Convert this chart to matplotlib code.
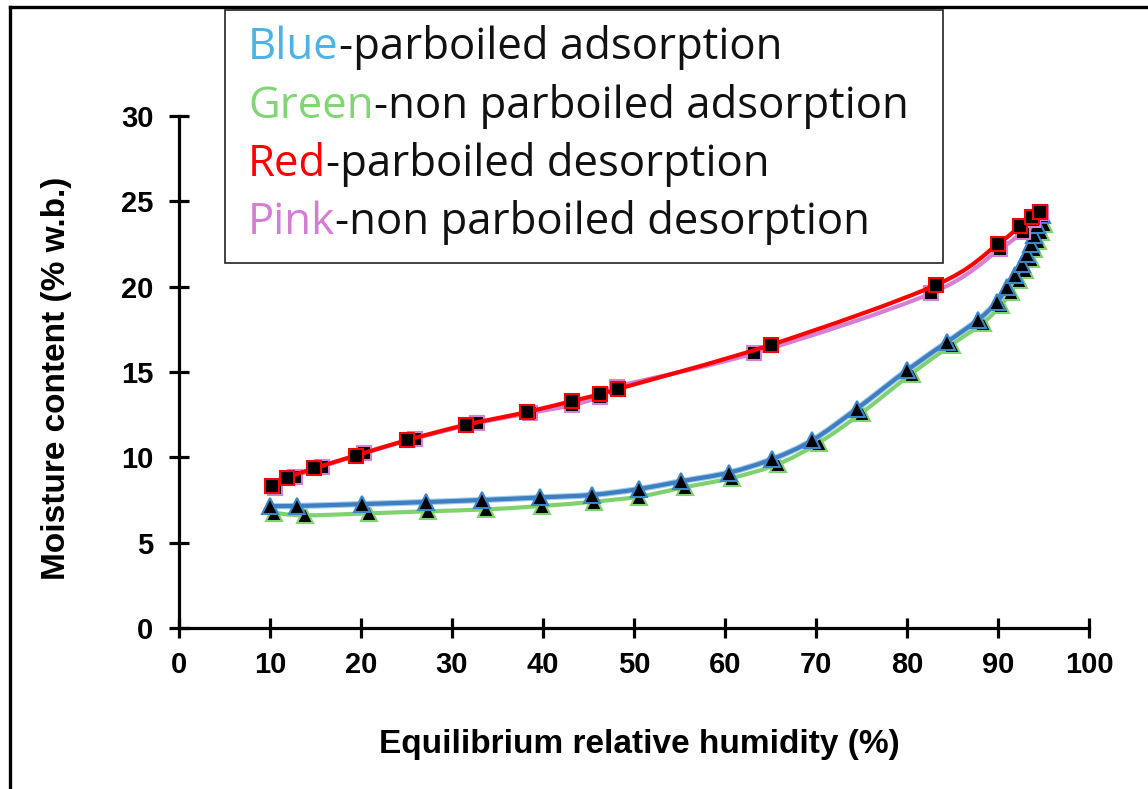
import numpy as np
import matplotlib
matplotlib.use("Agg")
import matplotlib.pyplot as plt
from matplotlib.path import Path
from matplotlib.patches import PathPatch, Rectangle
from matplotlib.lines import Line2D
from matplotlib.text import Annotation

# Sorption isotherm readings: equilibrium relative humidity (%) vs moisture content (% w.b.)
rh_pb_ads = [10.0, 13.0, 20.1, 27.1, 33.3, 39.7, 45.4, 50.5, 55.2, 60.4, 65.2, 69.6, 74.5,
             80.0, 84.4, 87.8, 89.9, 91.0, 91.9, 92.6, 93.2, 93.6, 94.0, 94.3, 94.8]
mc_pb_ads = [7.15, 7.15, 7.26, 7.38, 7.5, 7.65, 7.8, 8.14, 8.6, 9.1, 9.9, 11.0, 12.85,
             15.1, 16.75, 18.05, 19.1, 20.0, 20.7, 21.3, 21.9, 22.5, 23.0, 23.6, 24.2]

rh_npb_ads = [10.4, 13.8, 20.9, 27.4, 33.7, 39.9, 45.6, 50.6, 55.6, 60.8, 65.8, 70.3, 75.0,
              80.5, 84.9, 88.3, 90.3, 91.4, 92.3, 93.0, 93.6, 94.0, 94.4, 94.7, 95.1]
mc_npb_ads = [6.75, 6.6, 6.72, 6.84, 6.95, 7.15, 7.4, 7.7, 8.25, 8.8, 9.6, 10.85, 12.6,
              14.9, 16.6, 17.85, 18.9, 19.7, 20.4, 21.0, 21.6, 22.2, 22.7, 23.2, 23.7]

rh_pb_des = [10.2, 11.9, 14.8, 19.4, 25.0, 31.5, 38.2, 43.2, 46.3, 48.2, 65.1, 83.2,
             90.0, 92.4, 93.7, 94.6]
mc_pb_des = [8.3, 8.8, 9.35, 10.1, 11.0, 11.9, 12.65, 13.3, 13.7, 14.0, 16.6, 20.1,
             22.5, 23.55, 24.1, 24.4]

rh_npb_des = [10.5, 12.7, 15.7, 20.3, 25.9, 32.7, 38.6, 43.2, 46.3, 48.1, 63.2, 82.6,
              90.2, 92.7, 93.9, 94.7]
mc_npb_des = [8.2, 8.87, 9.45, 10.23, 11.1, 12.0, 12.6, 13.06, 13.55, 14.14, 16.1, 19.6,
              22.2, 23.2, 23.9, 24.3]

x_ticks = [0, 10, 20, 30, 40, 50, 60, 70, 80, 90, 100]
y_ticks = [0, 5, 10, 15, 20, 25, 30]

legend_lines = [
    ("Blue", "#4db3e6", "-parboiled adsorption"),
    ("Green", "#80d672", "-non parboiled adsorption"),
    ("Red", "#ff0000", "-parboiled desorption"),
    ("Pink", "#d67bd6", "-non parboiled desorption"),
]


def smooth_path(xs, ys):
    """Cubic Bezier path through the points (Catmull-Rom style, like a smoothed line)."""
    pts = np.column_stack([xs, ys]).astype(float)
    n = len(pts)
    verts = [pts[0]]
    codes = [Path.MOVETO]
    for i in range(n - 1):
        p0 = pts[i - 1] if i > 0 else pts[i]
        p1 = pts[i]
        p2 = pts[i + 1]
        p3 = pts[i + 2] if i + 2 < n else pts[i + 1]
        c1 = p1 + (p2 - p0) / 6.0
        c2 = p2 - (p3 - p1) / 6.0
        verts += [c1, c2, p2]
        codes += [Path.CURVE4] * 3
    return Path(verts, codes)


fig = plt.figure(figsize=(11.48, 7.89), dpi=100)
ax = fig.add_axes([179 / 1148, 1 - 628 / 789, (1089 - 179) / 1148, (628 - 116) / 789])

series = [
    (rh_npb_ads, mc_npb_ads, "#7fd36e", None, "^", "#7fd36e", 2),
    (rh_pb_ads, mc_pb_ads, "#3d7fc0", "#a8cdec", "^", "#3a86c8", 3),
    (rh_npb_des, mc_npb_des, "#d77fd7", None, "s", "#d77fd7", 4),
    (rh_pb_des, mc_pb_des, "#ff0000", None, "s", "#ff0000", 5),
]

for xs, ys, col, halo, mk, mec, z in series:
    path = smooth_path(xs, ys)
    if halo:
        ax.add_patch(PathPatch(path, fill=False, edgecolor=halo, lw=4.6, zorder=z,
                               capstyle="round", joinstyle="round"))
    ax.add_patch(PathPatch(path, fill=False, edgecolor=col, lw=3.0, zorder=z + 0.1,
                           capstyle="round", joinstyle="round"))
    ms = 12 if mk == "^" else 10.5
    ax.plot(xs, ys, linestyle="none", marker=mk, markersize=ms, markerfacecolor="black",
            markeredgecolor=mec, markeredgewidth=1.5, zorder=z + 0.2)

ax.set_xlim(0, 100)
ax.set_ylim(0, 30)
ax.set_xticks(x_ticks)
ax.set_yticks(y_ticks)
for side in ("top", "right"):
    ax.spines[side].set_visible(False)
for side in ("left", "bottom"):
    ax.spines[side].set_linewidth(2.3)
ax.tick_params(direction="inout", length=15, width=2.3, colors="black")
ax.tick_params(axis="x", pad=9)
ax.tick_params(axis="y", pad=11)
for lab in ax.get_xticklabels() + ax.get_yticklabels():
    lab.set_fontfamily("Liberation Sans")
    lab.set_fontweight("bold")
    lab.set_fontsize(21)

fig.text(639 / 1148, 1 - 745 / 789, "Equilibrium relative humidity (%)",
         ha="center", va="center", fontsize=24, fontweight="bold", family="Liberation Sans")
fig.text(57 / 1148, 1 - 378 / 789, "Moisture content (% w.b.)", rotation=90,
         ha="center", va="center", fontsize=24, fontweight="bold", family="Liberation Sans")

# text box with the colour key
fig.add_artist(Rectangle((225 / 1148, 1 - 263 / 789), (943 - 225) / 1148, (263 - 10) / 789,
                         transform=fig.transFigure, fill=True, facecolor="white",
                         edgecolor="#222222", lw=1.2, zorder=10))
line_y = [48, 107, 165, 223]
for (word, wcol, rest), yy in zip(legend_lines, line_y):
    t1 = fig.text(248 / 1148, 1 - yy / 789, word, color=wcol, fontsize=31.5,
                  family="Open Sans", ha="left", va="center", zorder=11)
    fig.add_artist(Annotation(rest, xy=(1, 0), xycoords=t1,
                              xytext=(1, 0), textcoords=t1,
                              ha="left", va="bottom", color="#111111",
                              fontsize=31.5, family="Open Sans", zorder=11))

# frame edges along the top and left of the canvas
fig.add_artist(Line2D([10 / 1148, 1], [1 - 7 / 789, 1 - 7 / 789], transform=fig.transFigure,
                      color="black", lw=2.4))
fig.add_artist(Line2D([10 / 1148, 10 / 1148], [0, 1 - 7 / 789], transform=fig.transFigure,
                      color="black", lw=2.4))

fig.savefig("out.png", dpi=100)
